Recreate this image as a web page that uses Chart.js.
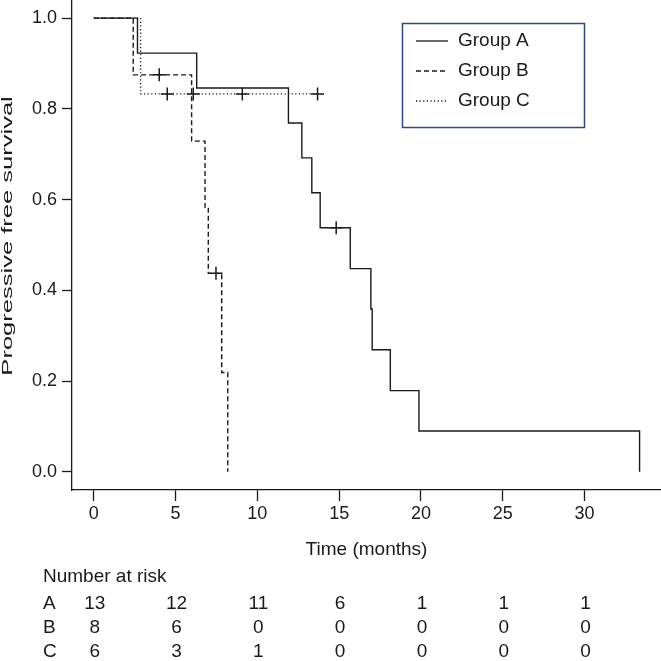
<!DOCTYPE html>
<html><head><meta charset="utf-8">
<script src="https://cdn.jsdelivr.net/npm/chart.js@4.4.1/dist/chart.umd.min.js"></script>
<style>html,body{margin:0;padding:0;background:#fff;} #wrap{position:relative;width:661px;height:661px;}</style>
</head><body><div id="wrap"><canvas id="c" width="661" height="661"></canvas></div>
<script>
// ---- data ----
const groupNames = ['Group A', 'Group B', 'Group C'];
const rowLabels = ['A', 'B', 'C'];
const yTitle = 'Progressive free survival';
const xTitle = 'Time (months)';
const riskTitle = 'Number at risk';

const timeA = [0, 2.67, 6.29, 11.9, 12.72, 13.33, 13.84, 15.68, 16.94, 17.02, 18.13, 19.88, 33.37];
const survA = [1, 0.923, 0.846, 0.769, 0.692, 0.615, 0.538, 0.448, 0.359, 0.269, 0.179, 0.090, 0];
const timeB = [0, 2.41, 5.98, 6.80, 7.00, 7.82, 8.19];
const survB = [1, 0.875, 0.729, 0.583, 0.4375, 0.219, 0];
const timeC = [0, 2.86, 13.68];
const survC = [1, 0.833, 0.833];

const censorTimeA = [14.82];
const censorSurvA = [0.538];
const censorTimeB = [4.0, 7.47];
const censorSurvB = [0.875, 0.4375];
const censorTimeC = [4.49, 6.08, 9.08, 13.68];
const censorSurvC = [0.833, 0.833, 0.833, 0.833];

const xTicks = [0, 5, 10, 15, 20, 25, 30];
const yTicks = [0, 0.2, 0.4, 0.6, 0.8, 1.0];

const riskA = [13, 12, 11, 6, 1, 1, 1];
const riskB = [8, 6, 0, 0, 0, 0, 0];
const riskC = [6, 3, 1, 0, 0, 0, 0];

// ---- chart ----
const FONT = '"Liberation Sans", Arial, sans-serif';
const FS_TICK = 18;
const FS = 19;
const INK = '#1a1a1a';
const dashes = [[], [5, 3], [1.2, 2.4]];

function pts(t, s) { return t.map((v, i) => ({ x: v, y: s[i] })); }

const curves = [pts(timeA, survA), pts(timeB, survB), pts(timeC, survC)];
const censors = [pts(censorTimeA, censorSurvA), pts(censorTimeB, censorSurvB), pts(censorTimeC, censorSurvC)];
const risks = [riskA, riskB, riskC];

const datasets = [];
curves.forEach((d, i) => {
  datasets.push({
    label: groupNames[i], data: d, showLine: true, stepped: 'before',
    borderColor: INK, borderWidth: 1.4, borderDash: dashes[i],
    pointRadius: 0, fill: false, order: 2
  });
});
censors.forEach((d, i) => {
  datasets.push({
    label: groupNames[i] + ' censored', data: d, showLine: false,
    pointStyle: 'cross', pointRadius: 6.5, pointBorderWidth: 1.5,
    pointBorderColor: INK, borderColor: INK, order: 1
  });
});

const overlay = {
  id: 'overlay',
  afterDraw(chart) {
    const ctx = chart.ctx;
    const xs = chart.scales.x;
    const ys = chart.scales.y;
    ctx.save();
    // y axis title (stretched along its length like the reference)
    ctx.save();
    ctx.translate(8, ys.getPixelForValue(0.52));
    ctx.rotate(-Math.PI / 2);
    ctx.scale(1.76, 1);
    ctx.font = '14.5px ' + FONT;
    ctx.fillStyle = INK;
    ctx.textAlign = 'center';
    ctx.textBaseline = 'middle';
    ctx.fillText(yTitle, 0, 0);
    ctx.restore();
    // legend
    ctx.strokeStyle = '#2f4a7c';
    ctx.lineWidth = 1.5;
    ctx.strokeRect(402.5, 23.5, 182, 104);
    ctx.font = FS + 'px ' + FONT;
    ctx.fillStyle = INK;
    ctx.textBaseline = 'middle';
    ctx.textAlign = 'left';
    const ly = [41, 71, 101];
    groupNames.forEach((g, i) => {
      ctx.beginPath();
      ctx.setLineDash(dashes[i]);
      ctx.strokeStyle = INK;
      ctx.lineWidth = 1.3;
      ctx.moveTo(416, ly[i]);
      ctx.lineTo(448, ly[i]);
      ctx.stroke();
      ctx.setLineDash([]);
      ctx.fillText(g, 458, ly[i]);
    });
    // number at risk table
    ctx.fillText(riskTitle, 43, 577);
    const ry = [604, 628, 652];
    rowLabels.forEach((r, i) => {
      ctx.textAlign = 'left';
      ctx.fillText(r, 43, ry[i]);
      ctx.textAlign = 'center';
      risks[i].forEach((v, j) => {
        ctx.fillText(String(v), xs.getPixelForValue(xTicks[j]) + 1, ry[i]);
      });
    });
    ctx.restore();
  }
};

new Chart(document.getElementById('c'), {
  type: 'scatter',
  data: { datasets },
  options: {
    responsive: false,
    devicePixelRatio: 1,
    animation: false,
    layout: { autoPadding: false, padding: 0 },
    plugins: { legend: { display: false }, tooltip: { enabled: false } },
    scales: {
      x: {
        type: 'linear', min: -1.334, max: 34.68,
        afterBuildTicks: s => { s.ticks = xTicks.map(v => ({ value: v })); },
        afterFit: s => { s.height = 171; s.paddingLeft = 0; s.paddingRight = 0; },
        grid: { drawOnChartArea: false, drawTicks: true, tickLength: 11, color: INK, tickWidth: 1.3 },
        border: { display: true, color: INK, width: 1.3 },
        ticks: { color: INK, font: { family: FONT, size: FS_TICK }, padding: 2, maxRotation: 0, autoSkip: false },
        title: { display: true, text: xTitle, color: INK, font: { family: FONT, size: FS }, padding: { top: 0, bottom: 100 } }
      },
      y: {
        type: 'linear', min: -0.04, max: 1.04,
        afterBuildTicks: s => { s.ticks = yTicks.map(v => ({ value: v })); },
        afterFit: s => { s.width = 72; s.paddingTop = 0; s.paddingBottom = 0; },
        grid: { drawOnChartArea: false, drawTicks: true, tickLength: 10, color: INK, tickWidth: 1.3 },
        border: { display: true, color: INK, width: 1.3 },
        ticks: { color: INK, font: { family: FONT, size: FS_TICK }, padding: 5, callback: v => v.toFixed(1) },
        title: { display: false }
      }
    }
  },
  plugins: [overlay]
});
</script>
</body></html>
